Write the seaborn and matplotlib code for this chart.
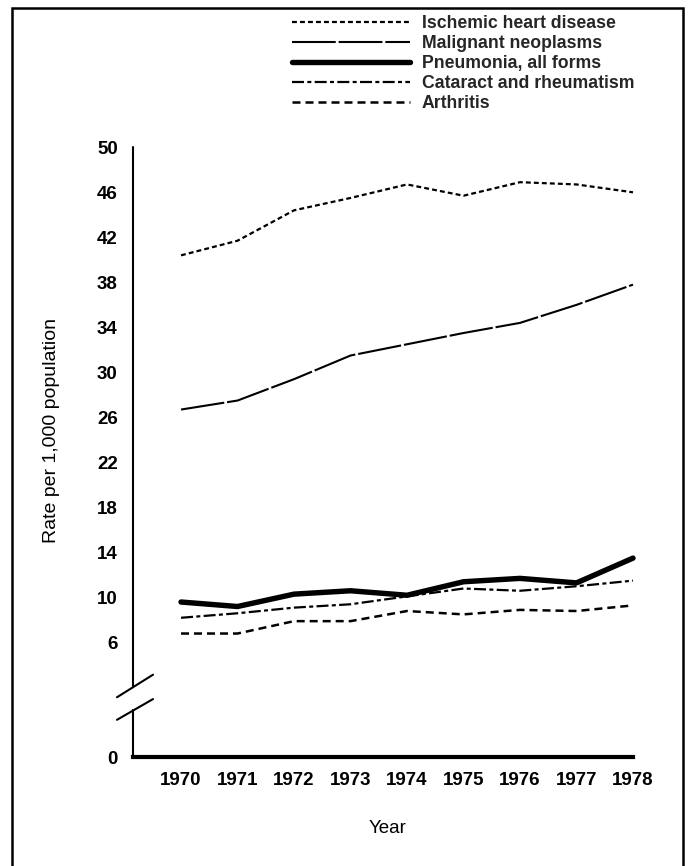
import numpy as np
import pandas as pd
import matplotlib
matplotlib.use("Agg")
import matplotlib.pyplot as plt
from matplotlib.lines import Line2D
from matplotlib.patches import Rectangle
import seaborn as sns

# ======================
# DATA (rate per 1,000 population)
# ======================
years = [1970, 1971, 1972, 1973, 1974, 1975, 1976, 1977, 1978]
ischemic = [40.4, 41.7, 44.4, 45.5, 46.7, 45.7, 46.9, 46.7, 46.0]
malignant = [26.7, 27.5, 29.4, 31.5, 32.5, 33.5, 34.4, 36.0, 37.8]
pneumonia = [9.6, 9.2, 10.3, 10.6, 10.2, 11.4, 11.7, 11.3, 13.5]
cataract = [8.2, 8.6, 9.1, 9.4, 10.1, 10.8, 10.6, 11.0, 11.5]
arthritis = [6.8, 6.8, 7.9, 7.9, 8.8, 8.5, 8.9, 8.8, 9.3]

causes = ["Ischemic heart disease", "Malignant neoplasms", "Pneumonia, all forms",
          "Cataract and rheumatism", "Arthritis"]
y_ticks = [0, 6, 10, 14, 18, 22, 26, 30, 34, 38, 42, 46, 50]

# ======================
# STYLES
# ======================
widths = {causes[0]: 1.6, causes[1]: 1.5, causes[2]: 3.9, causes[3]: 1.6, causes[4]: 1.8}
dash_map = {causes[0]: (2.2, 1.4), causes[1]: (21, 1.4), causes[2]: "",
            causes[3]: (5.4, 1.5, 1.8, 1.5), causes[4]: (3.2, 2.0)}

df = pd.DataFrame({"year": years * 5,
                   "rate": ischemic + malignant + pneumonia + cataract + arthritis,
                   "cause": [c for c in causes for _ in years]})

sns.set_theme(style="white")
plt.rcParams["font.family"] = ["Liberation Sans", "DejaVu Sans"]

fig = plt.figure(figsize=(6.89, 8.66), dpi=100)
ax = fig.add_axes([133 / 689, 1 - 757 / 866, 500 / 689, 609.7 / 866])

# broken axis: squeeze everything below 6
k = 10.17 / 6
def fwd(v):
    v = np.asarray(v, dtype=float)
    return np.where(v >= 6, v, 6 - (6 - v) * k)
def inv(t):
    t = np.asarray(t, dtype=float)
    return np.where(t >= 6, t, 6 - (6 - t) / k)
ax.set_yscale("function", functions=(fwd, inv))

sns.lineplot(data=df, x="year", y="rate", style="cause", size="cause",
             dashes=dash_map, sizes=widths, style_order=causes, size_order=causes,
             color="black", legend=False, ax=ax, clip_on=False)

ax.set_xlim(1969.15, 1978.0)
ax.set_ylim(0, 50)
ax.set_xticks(years)
ax.set_xticklabels([str(y) for y in years])
ax.set_yticks(y_ticks)
ax.set_yticklabels([str(t) for t in y_ticks])
ax.tick_params(axis="both", direction="in", length=13.5, width=1.5,
               labelsize=13.5, color="black", labelcolor="black")
ax.tick_params(axis="x", pad=11)
ax.tick_params(axis="y", pad=11)
for lbl in ax.get_xticklabels() + ax.get_yticklabels():
    lbl.set_fontweight("bold")

for s in ["top", "right", "left"]:
    ax.spines[s].set_visible(False)
ax.spines["bottom"].set_linewidth(3)
ax.spines["bottom"].set_color("black")

# left spine in two pieces with break marks
ax.plot([0, 0], [0.1165, 1], transform=ax.transAxes, clip_on=False, color="black", lw=1.5)
ax.plot([0, 0], [0, 0.0771], transform=ax.transAxes, clip_on=False, color="black", lw=1.5)
ax.plot([-0.032, 0.040], [0.098, 0.135], transform=ax.transAxes, clip_on=False, color="black", lw=1.5)
ax.plot([-0.032, 0.040], [0.061, 0.095], transform=ax.transAxes, clip_on=False, color="black", lw=1.5)

ax.set_ylabel("Rate per 1,000 population", fontsize=14, color="black")
ax.yaxis.set_label_coords(-0.146, 0.535)
ax.set_xlabel("Year", fontsize=13.5, color="black")
ax.xaxis.set_label_coords(0.509, -0.103)

# legend
handles = []
for c in causes:
    if dash_map[c] == "":
        handles.append(Line2D([], [], color="black", lw=widths[c], linestyle="-"))
    else:
        handles.append(Line2D([], [], color="black", lw=widths[c], dashes=dash_map[c]))
fig.legend(handles, causes, loc="upper left", bbox_to_anchor=(283 / 689, 1 - 6 / 866),
           frameon=False, borderpad=0, handlelength=6.7, handletextpad=0.68,
           labelspacing=0.17, prop={"size": 12.7, "weight": "bold"})

# frame round the figure
fig.add_artist(Rectangle((12 / 689, -0.02), 671 / 689, 1 - 8 / 866 + 0.02,
                         transform=fig.transFigure, fill=False, lw=1.8,
                         edgecolor="black", clip_on=False))

fig.savefig("out.png", dpi=100)
